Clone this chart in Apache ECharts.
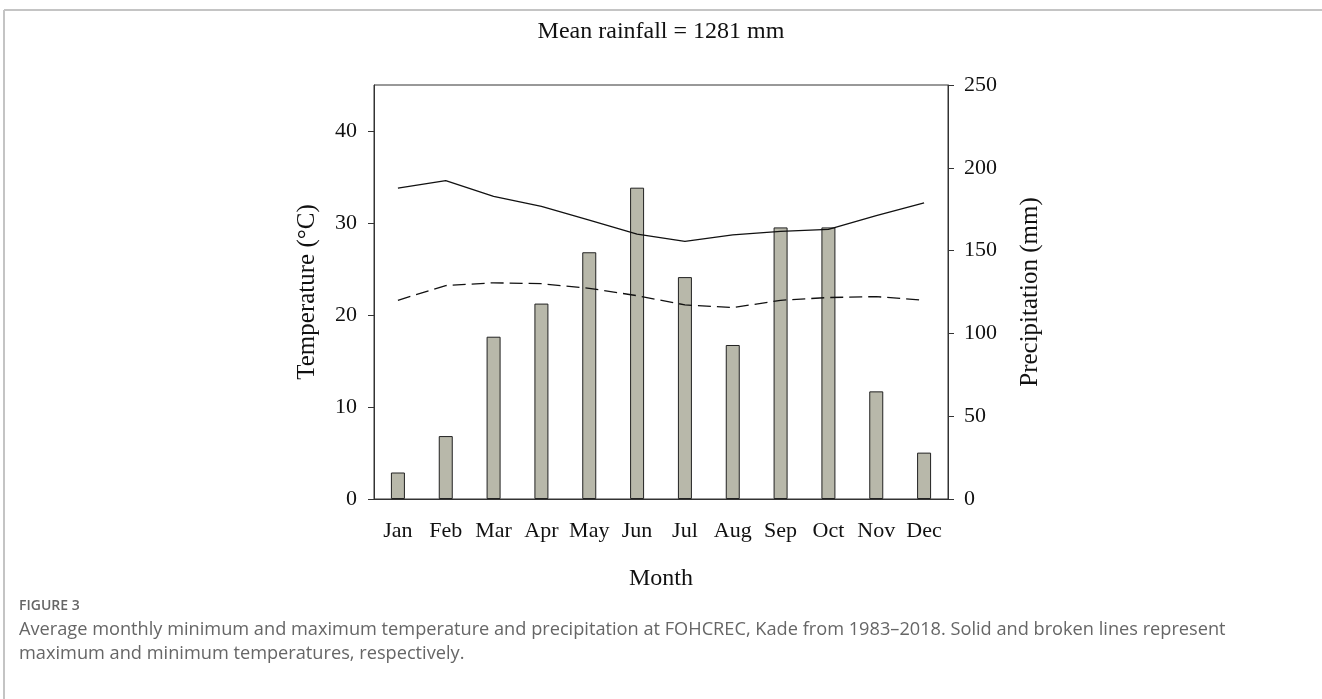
<!DOCTYPE html>
<html>
<head>
<meta charset="utf-8">
<script src="https://cdn.jsdelivr.net/npm/echarts@6/dist/echarts.min.js"></script>
<style>
html,body{margin:0;padding:0;background:#fff;}
#c{width:1322px;height:699px;}
</style>
</head>
<body>
<div id="c"></div>
<script>
const months = ['Jan','Feb','Mar','Apr','May','Jun','Jul','Aug','Sep','Oct','Nov','Dec'];
const precipitation = [16, 38, 98, 118, 149, 188, 134, 93, 164, 164, 65, 28];
const maxTemp = [33.8, 34.6, 32.9, 31.8, 30.3, 28.8, 28.0, 28.7, 29.1, 29.3, 30.8, 32.2];
const minTemp = [21.6, 23.2, 23.5, 23.4, 22.9, 22.1, 21.1, 20.8, 21.6, 21.9, 22.0, 21.6];
const tempTicks = [0, 10, 20, 30, 40];
const precipTicks = [0, 50, 100, 150, 200, 250];

const serif = '"Liberation Serif", "DejaVu Serif", serif';
const chart = echarts.init(document.getElementById('c'), null, {renderer: 'canvas'});
chart.setOption({
  animation: false,
  backgroundColor: '#fff',
  title: [
    {text: 'Mean rainfall = 1281 mm', left: 'center', top: 15,
     textStyle: {fontFamily: serif, fontSize: 24, fontWeight: 'normal', color: '#111'}},
    {text: 'FIGURE 3', left: 14, top: 594,
     textStyle: {fontFamily: '"Open Sans", sans-serif', fontSize: 14, fontWeight: 600, color: '#666'}},
    {text: 'Average monthly minimum and maximum temperature and precipitation at FOHCREC, Kade from 1983\u20132018. Solid and broken lines represent\nmaximum and minimum temperatures, respectively.',
     left: 14, top: 613,
     textStyle: {fontFamily: '"Open Sans", sans-serif', fontSize: 18.2, fontWeight: 'normal', color: '#666', lineHeight: 24}}
  ],
  graphic: [
    {type: 'line', shape: {x1: 4, y1: 10, x2: 1322, y2: 10}, style: {stroke: '#c4c4c4', lineWidth: 2}},
    {type: 'line', shape: {x1: 4, y1: 10, x2: 4, y2: 699}, style: {stroke: '#c4c4c4', lineWidth: 2}}
  ],
  grid: {left: 374, right: 374, top: 85, bottom: 200, show: true, borderColor: '#333', borderWidth: 1},
  xAxis: {
    type: 'category', data: months, boundaryGap: true,
    name: 'Month', nameLocation: 'middle', nameGap: 68,
    nameTextStyle: {fontFamily: serif, fontSize: 24, color: '#111'},
    axisLine: {lineStyle: {color: '#333', width: 1}},
    axisTick: {alignWithLabel: true, interval: 0, length: 6, lineStyle: {color: '#333'}},
    axisLabel: {interval: 0, fontFamily: serif, fontSize: 22, color: '#111', margin: 21}
  },
  yAxis: [
    {type: 'value', min: 0, max: 45, interval: 10, position: 'left',
     name: 'Temperature (\u00B0C)', nameLocation: 'middle', nameGap: 54,
     nameTextStyle: {fontFamily: serif, fontSize: 25, color: '#111'},
     axisLine: {show: true, lineStyle: {color: '#333'}},
     axisTick: {show: true, length: 6, customValues: tempTicks, lineStyle: {color: '#333'}},
     axisLabel: {fontFamily: serif, fontSize: 22, color: '#111', margin: 17, customValues: tempTicks},
     splitLine: {show: false}},
    {type: 'value', min: 0, max: 250, interval: 50, position: 'right',
     name: 'Precipitation (mm)', nameLocation: 'middle', nameGap: 70,
     nameTextStyle: {fontFamily: serif, fontSize: 25, color: '#111'},
     axisLine: {show: true, lineStyle: {color: '#333'}},
     axisTick: {show: true, length: 6, customValues: precipTicks, lineStyle: {color: '#333'}},
     axisLabel: {fontFamily: serif, fontSize: 22, color: '#111', margin: 16, customValues: precipTicks},
     splitLine: {show: false}}
  ],
  series: [
    {type: 'bar', name: 'Precipitation', yAxisIndex: 1, data: precipitation, barWidth: 14,
     itemStyle: {color: '#b8b8aa', borderColor: '#222', borderWidth: 1}, z: 1},
    {type: 'line', name: 'Max', yAxisIndex: 0, data: maxTemp, symbol: 'none',
     lineStyle: {color: '#111', width: 1.3, type: 'solid'}, z: 3},
    {type: 'line', name: 'Min', yAxisIndex: 0, data: minTemp, symbol: 'none',
     lineStyle: {color: '#111', width: 1.3, type: [13, 6]}, z: 3}
  ]
});
</script>
</body>
</html>
